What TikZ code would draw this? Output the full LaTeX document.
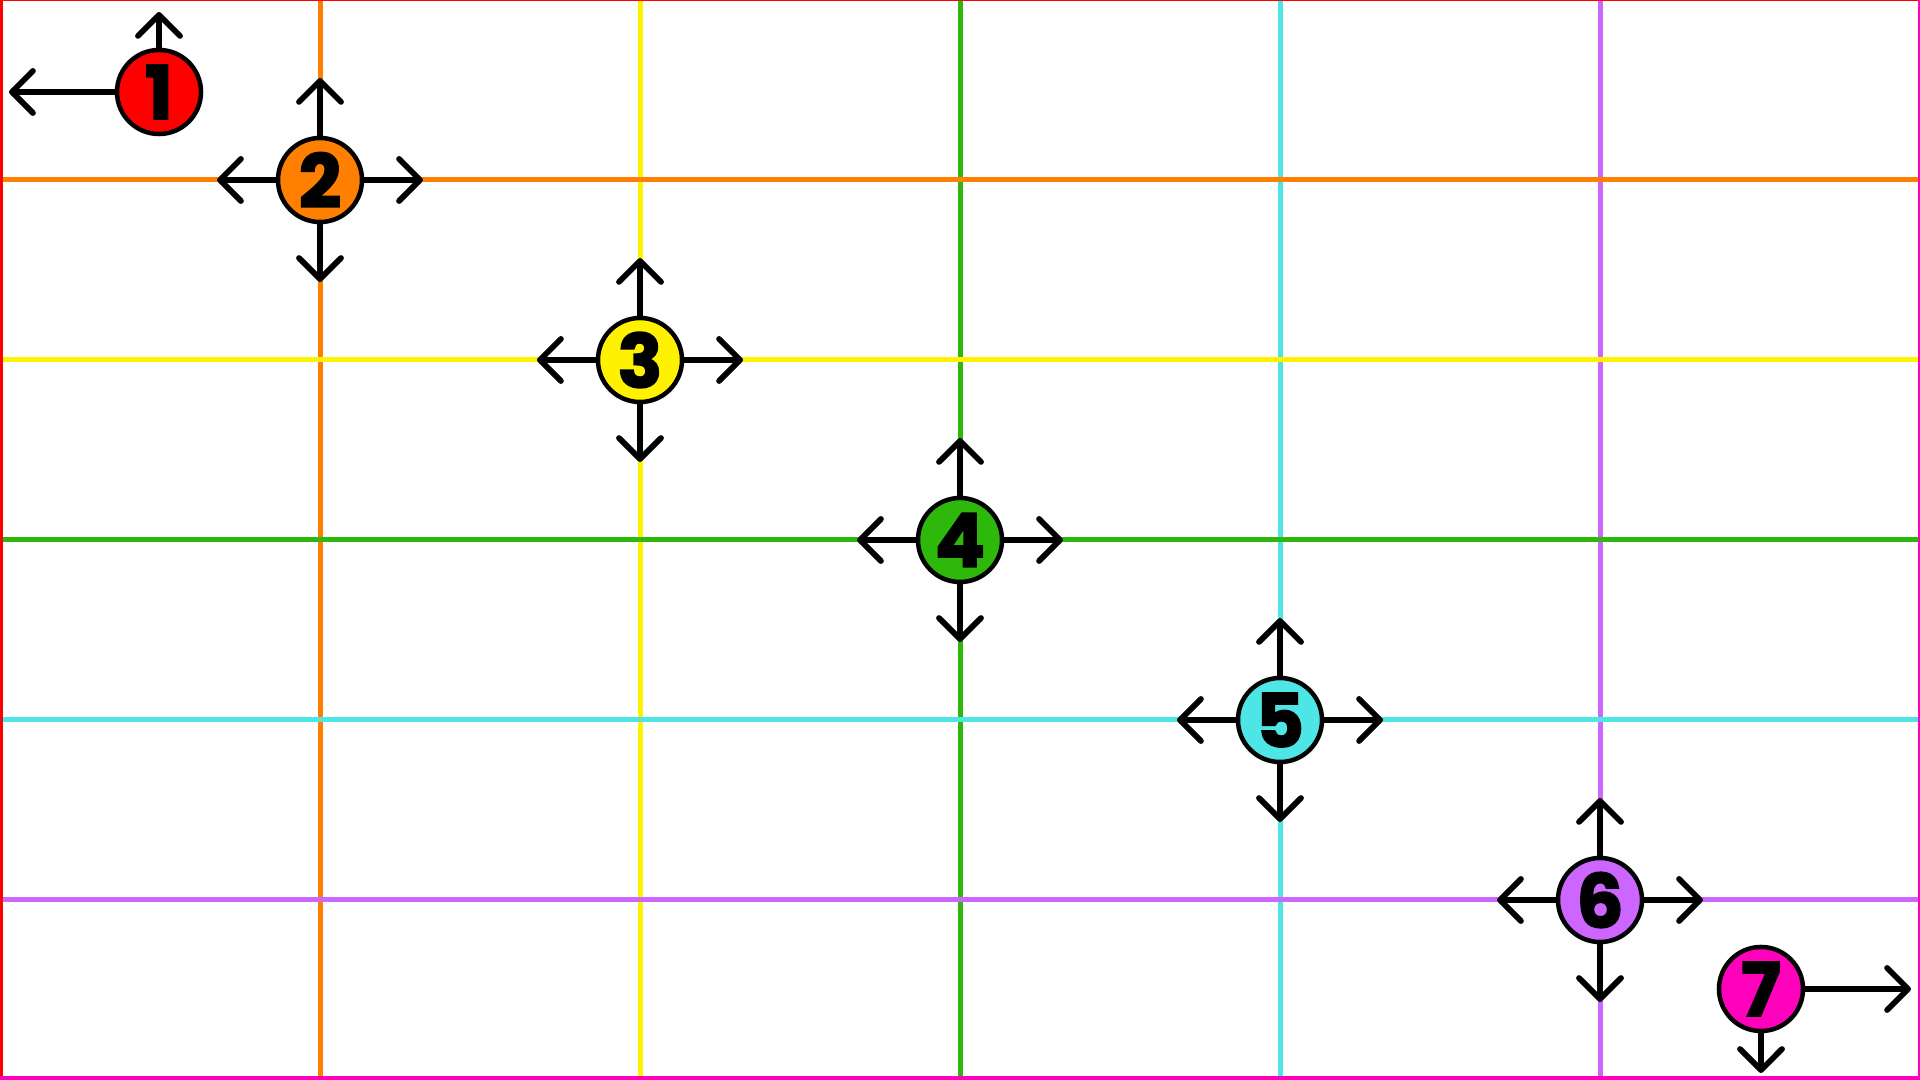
\documentclass[tikz,border=0pt]{standalone}
\usepackage{xcolor}
\usepackage{fontspec}
\setmainfont{Poppins}[BoldFeatures={FakeBold=2.5}]
\usepackage{tikz}
\usetikzlibrary{arrows.meta}

\definecolor{lvred}{HTML}{FF0000}
\definecolor{lvorange}{HTML}{FF7F00}
\definecolor{lvyellow}{HTML}{FFF200}
\definecolor{lvgreen}{HTML}{2DB80B}
\definecolor{lvcyan}{HTML}{4DE5E5}
\definecolor{lvpurple}{HTML}{CC66FF}
\definecolor{lvmagenta}{HTML}{FF00BB}

\begin{document}
\begin{tikzpicture}[
    x=0.01cm, y=-0.01cm,
    every node/.style={font=\fontsize{21}{21}\selectfont\bfseries},
    rule/.style={line width=0.05cm},
    spot/.style={circle, draw=black, line width=0.045cm, minimum size=0.84cm,
      inner sep=0pt, text=black},
    flow/.style={-{Straight Barb[length=0.21cm, width=0.42cm, round]},
      line width=0.058cm, line cap=round, draw=black}
  ]
    \useasboundingbox (0,0) rectangle (1920,1080);
    % vertical rules
    \draw[rule, lvorange] (320,0) -- (320,1080);
    \draw[rule, lvyellow] (640,0) -- (640,1080);
    \draw[rule, lvgreen] (960,0) -- (960,1080);
    \draw[rule, lvcyan] (1280,0) -- (1280,1080);
    \draw[rule, lvpurple] (1600,0) -- (1600,1080);
    % horizontal rules
    \draw[rule, lvorange] (0,180) -- (1920,180);
    \draw[rule, lvyellow] (0,360) -- (1920,360);
    \draw[rule, lvgreen] (0,540) -- (1920,540);
    \draw[rule, lvcyan] (0,720) -- (1920,720);
    \draw[rule, lvpurple] (0,900) -- (1920,900);
    % frame
    \draw[line width=0.055cm, lvred] (0,1080) -- (0,0);
    \draw[line width=0.03cm, lvred] (0,0) -- (1920,0);
    \draw[line width=0.04cm, lvmagenta] (1920,0) -- (1920,1080);
    \draw[line width=0.08cm, lvmagenta] (0,1080) -- (1920,1080);

    \node[spot, fill=lvred] (n1) at (159,92) {1};
    \node[spot, fill=lvorange] (n2) at (320,180) {2};
    \node[spot, fill=lvyellow] (n3) at (640,360) {3};
    \node[spot, fill=lvgreen] (n4) at (960,540) {4};
    \node[spot, fill=lvcyan] (n5) at (1280,720) {5};
    \node[spot, fill=lvpurple] (n6) at (1600,900) {6};
    \node[spot, fill=lvmagenta] (n7) at (1761,989) {7};

    \draw[flow] (n1) -- ++(0,-80);
    \draw[flow] (n1) -- ++(-150,0);

    \draw[flow] (n2) -- ++(0,-102);
    \draw[flow] (n2) -- ++(0,102);
    \draw[flow] (n2) -- ++(-103,0);
    \draw[flow] (n2) -- ++(103,0);

    \draw[flow] (n3) -- ++(0,-102);
    \draw[flow] (n3) -- ++(0,102);
    \draw[flow] (n3) -- ++(-103,0);
    \draw[flow] (n3) -- ++(103,0);

    \draw[flow] (n4) -- ++(0,-102);
    \draw[flow] (n4) -- ++(0,102);
    \draw[flow] (n4) -- ++(-103,0);
    \draw[flow] (n4) -- ++(103,0);

    \draw[flow] (n5) -- ++(0,-102);
    \draw[flow] (n5) -- ++(0,102);
    \draw[flow] (n5) -- ++(-103,0);
    \draw[flow] (n5) -- ++(103,0);

    \draw[flow] (n6) -- ++(0,-102);
    \draw[flow] (n6) -- ++(0,102);
    \draw[flow] (n6) -- ++(-103,0);
    \draw[flow] (n6) -- ++(103,0);

    \draw[flow] (n7) -- ++(150,0);
    \draw[flow] (n7) -- ++(0,84);
  \end{tikzpicture}
\end{document}
